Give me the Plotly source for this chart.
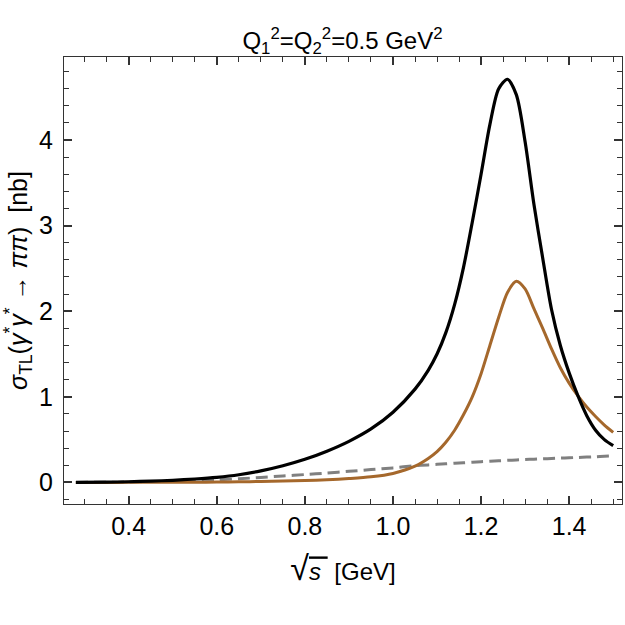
import plotly.graph_objects as go

sqrt_s = [0.28, 0.35, 0.40, 0.45, 0.50, 0.55, 0.60, 0.65, 0.70, 0.75, 0.80, 0.85, 0.90, 0.95,
          1.00, 1.05, 1.08, 1.10, 1.12, 1.14, 1.16, 1.18, 1.20, 1.22, 1.24, 1.26, 1.28, 1.30,
          1.32, 1.34, 1.36, 1.38, 1.40, 1.42, 1.44, 1.46, 1.48, 1.50]

sigma_total = [0.0, 0.003, 0.008, 0.015, 0.025, 0.04, 0.06, 0.09, 0.135, 0.195, 0.27, 0.365, 0.48, 0.625,
               0.82, 1.09, 1.31, 1.50, 1.75, 2.08, 2.51, 3.04, 3.60, 4.18, 4.60, 4.71, 4.53, 3.98,
               3.25, 2.62, 2.02, 1.60, 1.28, 1.01, 0.78, 0.61, 0.50, 0.43]

sigma_f2 = [0.0, 0.0, 0.001, 0.001, 0.002, 0.003, 0.004, 0.007, 0.011, 0.016, 0.022, 0.031, 0.045, 0.065,
            0.105, 0.19, 0.28, 0.36, 0.47, 0.61, 0.79, 1.00, 1.27, 1.60, 1.93, 2.22, 2.35, 2.26,
            2.03, 1.80, 1.56, 1.34, 1.16, 1.01, 0.88, 0.77, 0.67, 0.585]

sigma_born = [0.0, 0.002, 0.005, 0.01, 0.015, 0.022, 0.03, 0.043, 0.058, 0.075, 0.092, 0.11, 0.13, 0.15,
              0.17, 0.195, 0.205, 0.212, 0.218, 0.224, 0.23, 0.236, 0.242, 0.248, 0.253, 0.258, 0.263, 0.268,
              0.272, 0.276, 0.28, 0.284, 0.288, 0.292, 0.296, 0.300, 0.305, 0.31]

FONT = "Liberation Sans"
FRAME = "#333333"

fig = go.Figure()
fig.add_trace(go.Scatter(x=sqrt_s, y=sigma_born, mode="lines", line=dict(color="#808080", width=3, dash="12px,6px", shape="spline", smoothing=0.8), showlegend=False))
fig.add_trace(go.Scatter(x=sqrt_s, y=sigma_f2, mode="lines", line=dict(color="#A5682C", width=3, shape="spline", smoothing=0.8), showlegend=False))
fig.add_trace(go.Scatter(x=sqrt_s, y=sigma_total, mode="lines", line=dict(color="#000000", width=3.2, shape="spline", smoothing=0.8), showlegend=False))

axis_common = dict(
    showgrid=False, zeroline=False, showline=True, linecolor=FRAME, linewidth=1.3,
    mirror="ticks", ticks="inside", ticklen=8, tickwidth=1.6, tickcolor=FRAME,
    tickfont=dict(family=FONT, size=25, color="black"),
)

fig.update_xaxes(
    range=[0.253, 1.52], tick0=0, dtick=0.2, tickformat=".1f",
    minor=dict(dtick=0.05, tick0=0, ticks="inside", ticklen=5, tickcolor=FRAME, tickwidth=1.4),
    title=dict(text="<span style='font-size:34px'>√</span><span style='text-decoration:overline'><i>s</i> </span> [GeV]",
               font=dict(family=FONT, size=24, color="black"), standoff=24),
    **axis_common,
)
fig.update_yaxes(
    range=[-0.252, 4.97], tick0=0, dtick=1,
    minor=dict(dtick=0.2, tick0=0, ticks="inside", ticklen=5, tickcolor=FRAME, tickwidth=1.4),
    ticklabelstandoff=5,
    title=dict(text="<i>σ</i><sub>TL</sub>(<i>γ</i><sup>*</sup><i>γ</i><sup>*</sup> → <i>ππ</i>)  [nb]",
               font=dict(family=FONT, size=25, color="black"), standoff=8),
    **axis_common,
)

fig.update_layout(
    width=625, height=625,
    margin=dict(l=64, r=3, t=57, b=121),
    paper_bgcolor="white", plot_bgcolor="white",
    title=dict(text="Q<sub>1</sub><sup>2</sup>=Q<sub>2</sub><sup>2</sup>=0.5 GeV<sup>2</sup>",
               x=0.548, xanchor="center", y=0.935, yanchor="middle", yref="container",
               font=dict(family=FONT, size=24, color="black")),
)

fig.write_html("out.html")
